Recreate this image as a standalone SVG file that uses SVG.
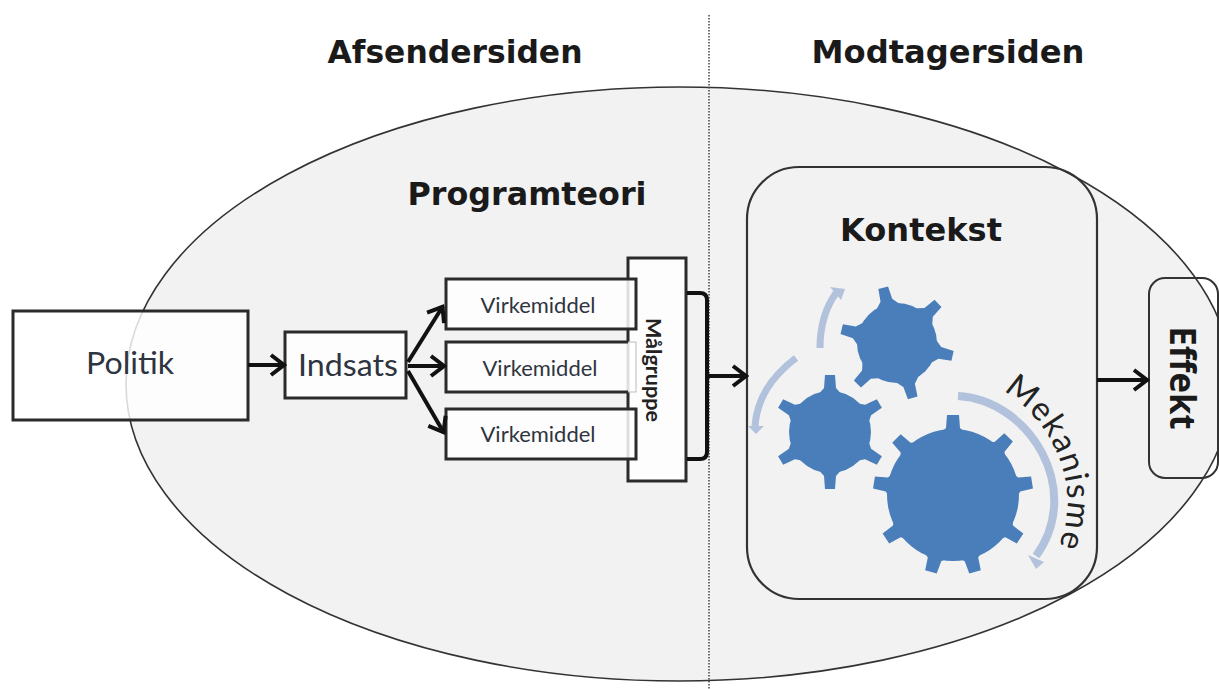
<svg xmlns="http://www.w3.org/2000/svg" xmlns:xlink="http://www.w3.org/1999/xlink" width="1219" height="689" viewBox="0 0 1219 689">
<style>
.box{stroke:#2b2b2b;stroke-width:3}
.lab{font-family:Lato,"Open Sans",sans-serif;fill:#2e3440}
.head{font-family:"DejaVu Sans","Open Sans",sans-serif;font-weight:700;fill:#1a1a1a;text-anchor:middle}
.conn{fill:none;stroke:#111;stroke-width:4}
.arc{fill:none;stroke:#b2c2dc}
.ah{fill:#b2c2dc}
.gear{fill:#4a7ebb}
</style>
<defs>
<marker id="arrow" viewBox="0 0 20 24" markerWidth="20" markerHeight="24" refX="18" refY="12" markerUnits="userSpaceOnUse" orient="auto">
<path d="M4,2 L17,12 L4,22" fill="none" stroke="#111" stroke-width="4"/>
</marker>
<path id="mek" d="M1003,391 C1052,420 1088,490 1054,556"/>
<polygon id="t1" points="-15,-60 15,-60 7,-67 6,-80 -6,-80 -7,-67"/>
<polygon id="t2" points="-14,-35 14,-35 6,-44 5,-57 -5,-57 -6,-44"/>
</defs>
<rect width="1219" height="689" fill="#fff"/>
<ellipse id="scope" cx="679" cy="384" rx="553" ry="297" fill="#f2f2f2" stroke="#333" stroke-width="1.6"/>
<line id="divider" x1="709" y1="15" x2="709" y2="689" stroke="#444" stroke-width="1.5" stroke-dasharray="1.5 1.5"/>
<text class="head" x="455" y="63" font-size="32" textLength="255" lengthAdjust="spacingAndGlyphs">Afsendersiden</text>
<text class="head" x="948" y="63" font-size="32" textLength="273" lengthAdjust="spacingAndGlyphs">Modtagersiden</text>
<g id="programteori"><text class="head" x="527" y="205" font-size="32" textLength="239" lengthAdjust="spacingAndGlyphs">Programteori</text></g>
<g id="politik"><rect class="box" x="13" y="311" width="235" height="109" fill="#fff" fill-opacity=".82"/><text class="lab" x="130" y="374" font-size="30" text-anchor="middle" textLength="88" lengthAdjust="spacingAndGlyphs">Politik</text></g>
<g id="indsats"><rect class="box" x="285" y="332" width="121" height="66" fill="#fff" fill-opacity=".85"/><text class="lab" x="348" y="376" font-size="30" text-anchor="middle" textLength="100" lengthAdjust="spacingAndGlyphs">Indsats</text></g>
<g id="malgruppe"><rect class="box" x="628" y="258" width="58" height="223" fill="#fff" fill-opacity=".85"/><text x="646" y="370" font-family="Lato,sans-serif" font-weight="700" font-size="21" fill="#222" text-anchor="middle" textLength="104" lengthAdjust="spacingAndGlyphs" transform="rotate(90 646 370)">Målgruppe</text></g>
<g id="virkemiddel1"><rect class="box" x="446" y="279" width="190" height="50" fill="#fff" fill-opacity=".85"/><text class="lab" x="538" y="313" font-size="21" text-anchor="middle" textLength="115" lengthAdjust="spacingAndGlyphs">Virkemiddel</text></g>
<g id="virkemiddel2"><rect x="446" y="342" width="190" height="50" fill="#fff" fill-opacity=".85" stroke="#bbb" stroke-width="1"/><path class="box" d="M628,342 H446 V392 H628" fill="none"/><text class="lab" x="540" y="376" font-size="21" text-anchor="middle" textLength="115" lengthAdjust="spacingAndGlyphs">Virkemiddel</text></g>
<g id="virkemiddel3"><rect class="box" x="446" y="409" width="190" height="50" fill="#fff" fill-opacity=".85"/><text class="lab" x="538" y="442" font-size="21" text-anchor="middle" textLength="115" lengthAdjust="spacingAndGlyphs">Virkemiddel</text></g>
<g id="kontekst"><rect x="747" y="167" width="350" height="432" rx="52" fill="none" stroke="#333" stroke-width="2.2"/><text class="head" x="921" y="241" font-size="32" textLength="162" lengthAdjust="spacingAndGlyphs">Kontekst</text></g>
<g id="gear-large" class="gear"><circle cx="953" cy="495" r="66"/>
<use href="#t1" transform="translate(953 495) rotate(0)"/><use href="#t1" transform="translate(953 495) rotate(44)"/><use href="#t1" transform="translate(953 495) rotate(81)"/><use href="#t1" transform="translate(953 495) rotate(123)"/><use href="#t1" transform="translate(953 495) rotate(164)"/><use href="#t1" transform="translate(953 495) rotate(196)"/><use href="#t1" transform="translate(953 495) rotate(237)"/><use href="#t1" transform="translate(953 495) rotate(279)"/><use href="#t1" transform="translate(953 495) rotate(315)"/></g>
<g id="gear-left" class="gear"><circle cx="830" cy="432" r="41"/>
<use href="#t2" transform="translate(830 432) rotate(0)"/><use href="#t2" transform="translate(830 432) rotate(60)"/><use href="#t2" transform="translate(830 432) rotate(120)"/><use href="#t2" transform="translate(830 432) rotate(180)"/><use href="#t2" transform="translate(830 432) rotate(240)"/><use href="#t2" transform="translate(830 432) rotate(300)"/></g>
<g id="gear-top" class="gear"><circle cx="897" cy="343" r="40"/>
<use href="#t2" transform="translate(897 343) rotate(-14)"/><use href="#t2" transform="translate(897 343) rotate(46)"/><use href="#t2" transform="translate(897 343) rotate(103)"/><use href="#t2" transform="translate(897 343) rotate(164)"/><use href="#t2" transform="translate(897 343) rotate(224)"/><use href="#t2" transform="translate(897 343) rotate(284)"/></g>
<g id="mekanisme">
<path class="arc" stroke-width="8" d="M958,396 C1030,400 1084,490 1036,556"/><polygon class="ah" points="1028,555 1044,562 1036,569"/>
<path class="arc" stroke-width="7" d="M796,358 C772,376 757,398 755,426"/><polygon class="ah" points="748,426 764,426 756,434"/>
<path class="arc" stroke-width="7" d="M820,348 C820,325 826,307 836,293"/><polygon class="ah" points="830,287 845,289 841,300"/>
<text font-family="Lato,sans-serif" font-size="33" letter-spacing="1.6" fill="#222"><textPath href="#mek" xlink:href="#mek">Mekanisme</textPath></text>
</g>
<g id="effekt"><rect x="1149" y="278" width="69" height="200" rx="16" fill="none" stroke="#333" stroke-width="2"/><text x="1170" y="378" font-family="'Open Sans',sans-serif" font-weight="700" font-size="35" fill="#1a1a1a" text-anchor="middle" textLength="103" lengthAdjust="spacingAndGlyphs" transform="rotate(90 1170 378)">Effekt</text></g>
<g id="connectors">
<line class="conn" x1="248" y1="365" x2="285" y2="365" marker-end="url(#arrow)"/>
<line class="conn" x1="408" y1="362" x2="443" y2="306" marker-end="url(#arrow)"/>
<line class="conn" x1="408" y1="366" x2="445" y2="366" marker-end="url(#arrow)"/>
<line class="conn" x1="408" y1="371" x2="444" y2="433" marker-end="url(#arrow)"/>
<path class="conn" d="M687,293 H700 Q707,293 707,300 V452 Q707,459 700,459 H687"/>
<line class="conn" x1="707" y1="376" x2="747" y2="376" marker-end="url(#arrow)"/>
<line class="conn" x1="1097" y1="380" x2="1148" y2="380" marker-end="url(#arrow)"/>
</g>
</svg>
